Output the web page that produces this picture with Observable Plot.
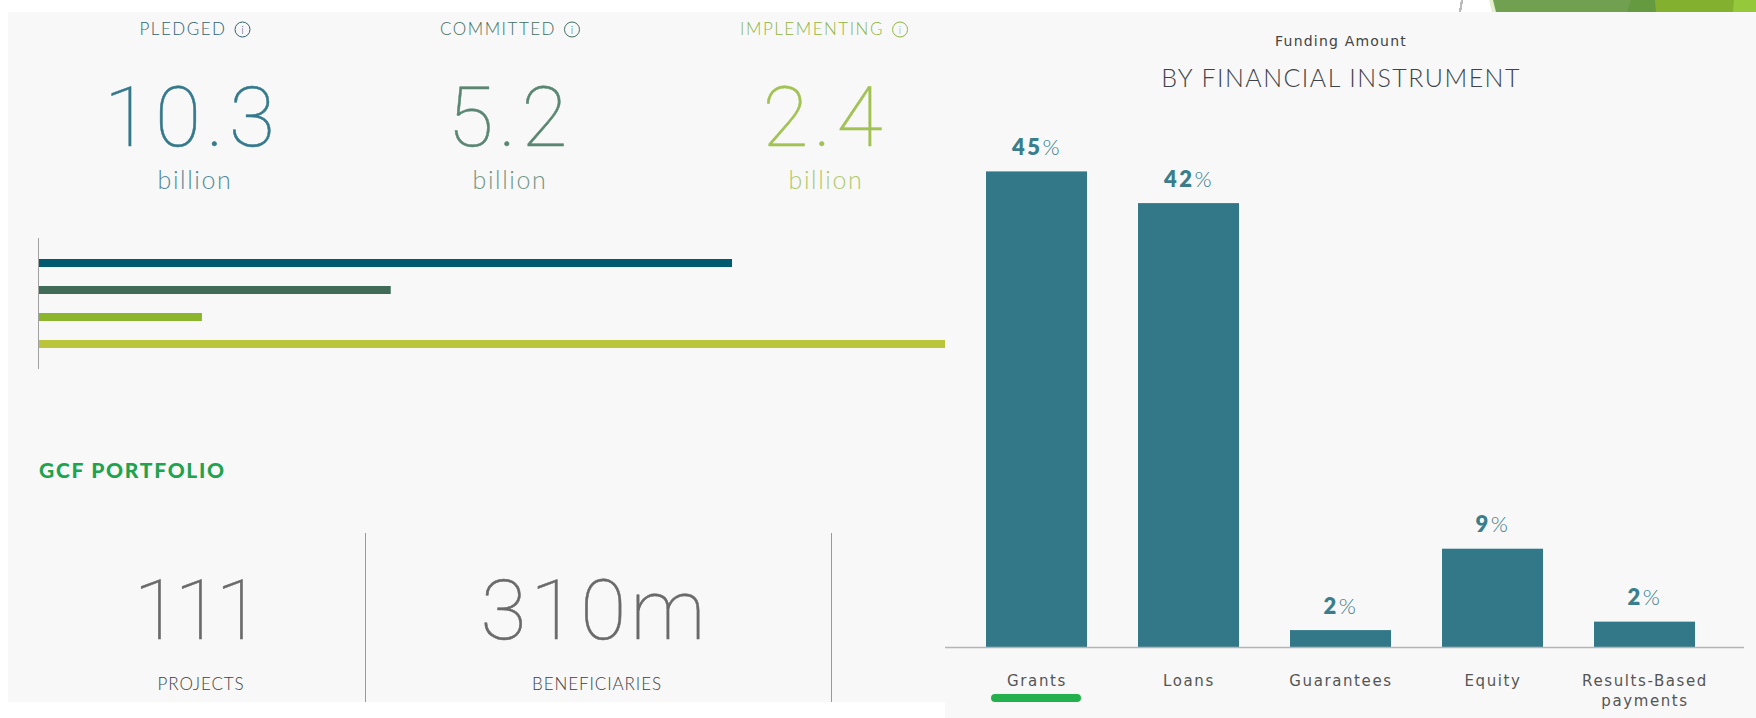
<!DOCTYPE html>
<html><head><meta charset="utf-8">
<script src="https://cdn.jsdelivr.net/npm/d3@7"></script>
<script src="https://cdn.jsdelivr.net/npm/@observablehq/plot@0.6"></script>
<style>
html,body{margin:0;padding:0;background:#fff;width:1756px;height:718px;overflow:hidden;font-family:Lato,sans-serif}
.abs{position:absolute;white-space:nowrap}
.c{transform:translate(-50%,-50%)}
.panel{position:absolute;background:#f8f8f8}
.i{display:inline-block;width:14px;height:14px;border:1.2px solid currentColor;border-radius:50%;font-size:11px;line-height:14px;text-align:center;margin-left:8px;vertical-align:1px;letter-spacing:0}
.big{font-family:Roboto,sans-serif;font-weight:100;font-size:84px;-webkit-text-stroke:.5px currentColor}
svg{position:absolute;background:transparent!important;overflow:hidden}
</style></head><body>
<div id="root"></div>
<script>
// Headline figures
const kpiNames = ["PLEDGED","COMMITTED","IMPLEMENTING"];
const kpiValues = ["10.3","5.2","2.4"];
const kpiUnit = "billion";
const kpiColors = ["#35798c","#5a8672","#a2c254"];
const labelColors = ["#2f6272","#3f6f5f","#8fb53f"];
// Horizontal progress bars (billion)
const progressNames = ["Pledged","Committed","Implementing","Fourth bar"];
const progressValues = [10.33,5.25,2.44,13.5];
const progressColors = ["#005a70","#3f6b57","#8ab52d","#bac53a"];
// Portfolio
const portfolioValues = ["111","310m"];
const portfolioNames = ["PROJECTS","BENEFICIARIES"];
// Funding by instrument
const instruments = ["Grants","Loans","Guarantees","Equity","Results-Based\npayments"];
const instrumentShare = [45,42,1.6,9.3,2.4];
const instrumentLabels = ["45%","42%","2%","9%","2%"];

const root = document.getElementById("root");
function add(cls, css, html){
  const d=document.createElement("div"); d.className=cls; d.style.cssText=css; d.innerHTML=html||""; root.appendChild(d); return d;
}
// corner decoration above the panels
add("abs","left:1455px;top:0;width:12px;height:12px;background:linear-gradient(100deg,transparent 42%,#bbb 42%,#bbb 58%,transparent 58%);");
add("abs","left:1489px;top:0;width:267px;height:12px;background:#e4efd0;clip-path:polygon(0 0,100% 0,100% 100%,3px 100%);");
add("abs","left:1493px;top:0;width:263px;height:12px;background:#70a050;clip-path:polygon(0 0,100% 0,100% 100%,3px 100%);");
add("abs","left:1627px;top:0;width:129px;height:12px;background:#659a40;clip-path:polygon(4px 0,100% 0,100% 100%,0 100%);");
add("abs","left:1655px;top:0;width:101px;height:12px;background:#84b030;clip-path:polygon(0 0,100% 0,100% 100%,1px 100%);");
add("abs","left:1733px;top:0;width:23px;height:12px;background:#96c83c;clip-path:polygon(1px 0,100% 0,100% 100%,0 100%);");
add("panel","left:8px;top:12px;width:937px;height:690px;");
add("panel","left:945px;top:12px;width:811px;height:706px;");

kpiNames.forEach((n,i)=>{
  add("abs c",`left:${[195,510,824][i]}px;top:28px;font-size:17px;font-weight:300;letter-spacing:1.5px;color:${labelColors[i]}`,`${n}<span class="i">i</span>`);
  add("abs c big",`left:${[192,510,825][i]}px;top:116.5px;letter-spacing:5px;color:${kpiColors[i]}`,kpiValues[i]);
  add("abs c",`left:${[195,510,826][i]}px;top:179px;font-size:25px;font-weight:300;letter-spacing:1.6px;color:${kpiColors[i]};opacity:.85`,kpiUnit);
});
add("abs","left:39px;top:457px;font-size:21px;font-weight:900;letter-spacing:1.7px;color:#1fa34f","GCF PORTFOLIO");
add("abs","left:365px;top:533px;width:1px;height:169px;background:#9a9a9a");
add("abs","left:831px;top:533px;width:1px;height:169px;background:#9a9a9a");
[195,595].forEach((x,i)=>add("abs c big",`left:${x}px;top:610px;color:#6a6a6a;letter-spacing:${i?4:-5}px`,portfolioValues[i]));
[201,597].forEach((x,i)=>add("abs c",`left:${x}px;top:683px;font-size:17px;font-weight:300;letter-spacing:.9px;color:#3f3f3f`,portfolioNames[i]));

add("abs c","left:1341px;top:41px;font-family:'DejaVu Sans';font-size:14px;letter-spacing:1.2px;color:#444","Funding Amount");
add("abs c","left:1341px;top:77px;font-size:25px;font-weight:300;letter-spacing:1.45px;color:#3f444a","BY FINANCIAL INSTRUMENT");

// left bars
const progress = progressNames.map((name,i)=>({name,value:progressValues[i],color:progressColors[i]}));
const p1 = Plot.plot({
  width:937,height:131,marginLeft:30,marginRight:0,marginTop:0,marginBottom:0,
  style:{background:"transparent"},
  x:{domain:[0,13.5],axis:null},
  y:{domain:progressNames,axis:null,paddingInner:.707,paddingOuter:.753},
  marks:[
    Plot.barX(progress,{x:"value",y:"name",fill:"color"}),
    Plot.ruleX([0],{stroke:"#a0a0a0",strokeWidth:1})
  ]
});
p1.style.cssText+=";left:8px;top:237.5px;";
root.appendChild(p1);

// right bars
const funding = instruments.map((name,i)=>({name,share:instrumentShare[i],label:instrumentLabels[i]}));
const p2 = Plot.plot({
  width:811,height:618,marginLeft:0,marginRight:12,marginTop:71.4,marginBottom:71,
  style:{background:"transparent",fontFamily:"Lato,sans-serif"},
  x:{domain:instruments,paddingInner:.338,paddingOuter:.287,align:.455,label:null,axis:null},
  y:{domain:[0,45],axis:null},
  marks:[
    Plot.barY(funding,{x:"name",y:"share",fill:"#337889"}),
    Plot.ruleY([0],{stroke:"#b5b5b5",strokeWidth:1.5}),
    Plot.text(funding,{x:"name",y:"share",text:"label",dy:-24,fontSize:22,fontWeight:800,fill:"#3a7d8c"}),
    Plot.axisX({tickSize:0,tickPadding:25,label:null,lineHeight:1.3,fontSize:15,fontFamily:"DejaVu Sans",fill:"#555"})
  ]
});
p2.style.cssText+=";left:945px;top:100px;";
root.appendChild(p2);
d3.select(p2).selectAll('[aria-label="x-axis tick label"] text').style("letter-spacing","1.6px");
// lighter percent sign, as in the reference
d3.select(p2).selectAll('[aria-label="text"] text').each(function(){
  const t=this.textContent; this.textContent=t.slice(0,-1);
  this.style.letterSpacing="2.5px";
  d3.select(this).append("tspan").attr("font-weight",300).text(t.slice(-1));
});
// selection marker under the first category
add("abs","left:991px;top:694px;width:90px;height:8px;border-radius:4px;background:#22b14c");
</script>
</body></html>
